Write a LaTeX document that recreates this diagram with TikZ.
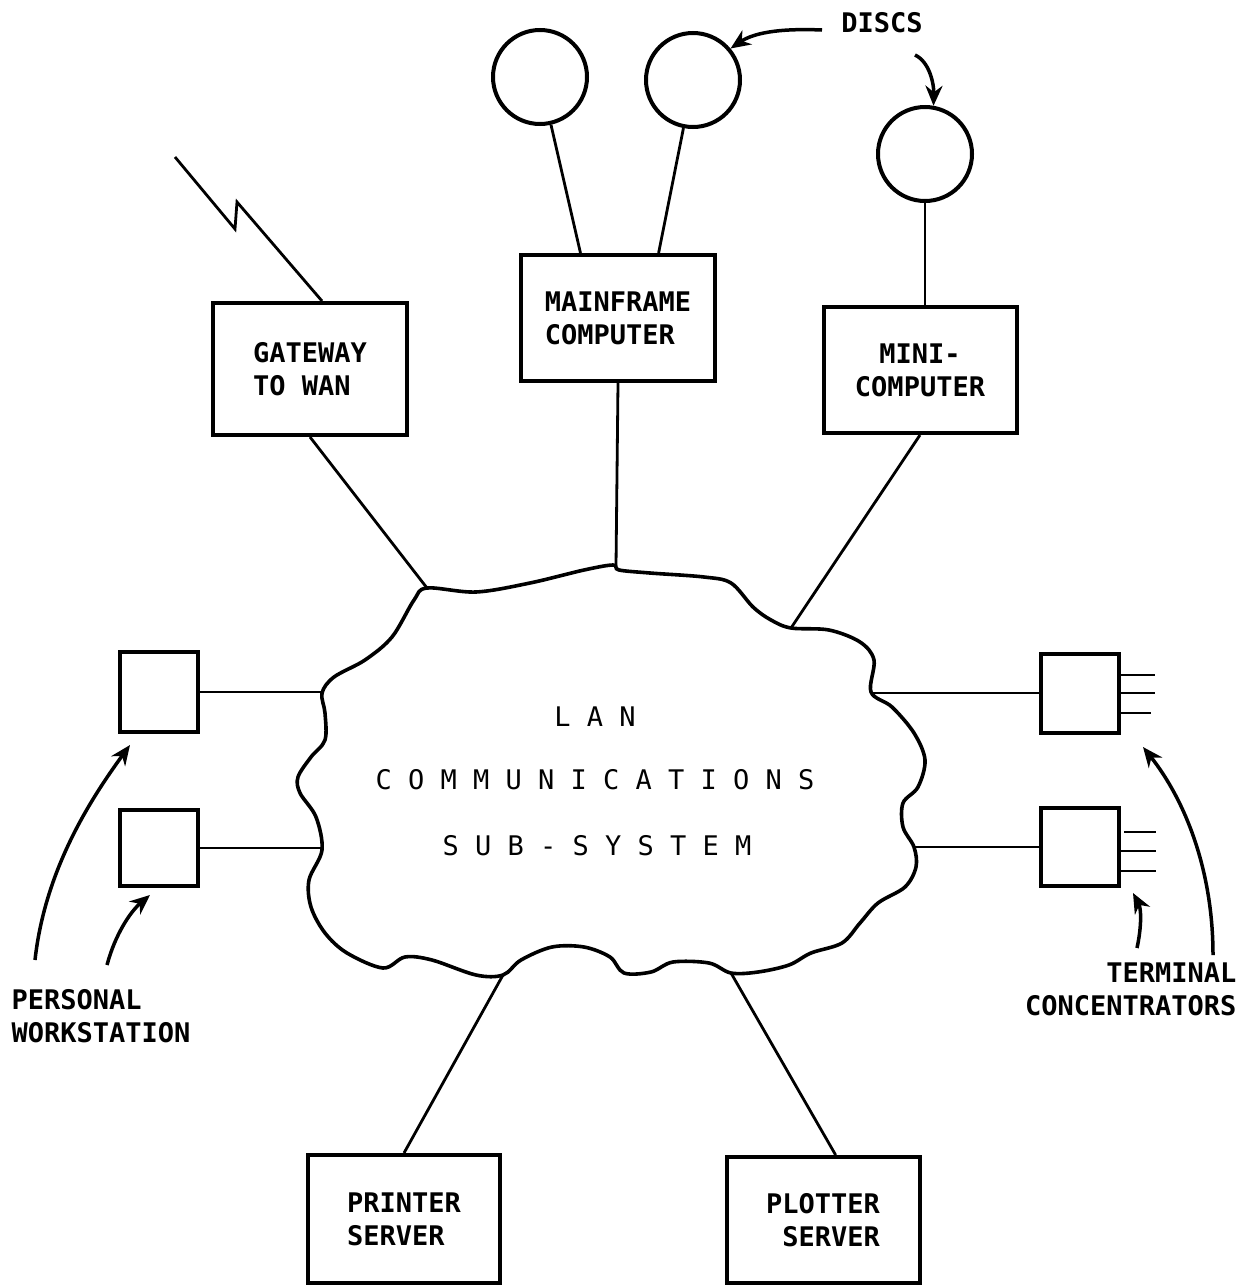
\documentclass[tikz,border=0pt]{standalone}
\usepackage{fontspec}
\newfontfamily\plotfont{DejaVu Sans Mono}
\usetikzlibrary{arrows.meta,calc}
\begin{document}
\begin{tikzpicture}[x=1pt,y=-1pt,
  every node/.style={font=\plotfont\bfseries\fontsize{27}{33}\selectfont},
  cloudtext/.style={font=\plotfont\fontsize{27}{33}\selectfont},
  box/.style={draw,line width=4pt,inner sep=0pt},
  disc/.style={draw,circle,line width=4pt,minimum size=94pt,inner sep=0pt},
  conn/.style={line width=2.8pt},
  pointer/.style={line width=3.5pt,-{Stealth[length=20pt,width=17pt]}},
]
\useasboundingbox (0,0) rectangle (1259,1285);

% boxes
\node[box,minimum width=194pt,minimum height=132pt,align=left] (gw) at (310,369) {GATEWAY\\TO WAN};
\node[box,minimum width=194pt,minimum height=126pt,align=left] (mf) at (618,318) {MAINFRAME\\COMPUTER};
\node[box,minimum width=193pt,minimum height=126pt,align=center] (mini) at (920,370) {MINI-\\COMPUTER};
\node[box,minimum width=192pt,minimum height=128pt,align=left] (pr) at (404,1219) {PRINTER\\SERVER};
\node[box,minimum width=193pt,minimum height=126pt,align=right] (pl) at (823,1220) {PLOTTER\\SERVER};
\node[box,minimum width=78pt,minimum height=80pt] (ws1) at (159,692) {};
\node[box,minimum width=78pt,minimum height=76pt] (ws2) at (159,848) {};
\node[box,minimum width=78pt,minimum height=79pt] (tc1) at (1080,693) {};
\node[box,minimum width=78pt,minimum height=78pt] (tc2) at (1080,847) {};

% discs
\node[disc] (d1) at (540,77) {};
\node[disc] (d2) at (693,80) {};
\node[disc] (d3) at (925,154) {};

% cloud
\draw[line width=3.6pt] plot[smooth cycle, tension=0.55] coordinates {
(427,588) (476,592) (530,583) (584,570) (613,565) (619,570) (650,573) (704,577)
(731,583) (753,607) (771,620) (791,628) (829,630) (860,642) (874,660) (871,692)
(892,707) (914,733) (925,760) (918,787) (903,803) (903,827) (914,847) (916,867)
(905,887) (878,903) (860,923) (842,943) (811,953) (789,965) (758,972) (731,973)
(709,963) (673,962) (651,972) (624,973) (610,957) (584,947) (552,947) (521,960)
(503,975) (476,975) (432,960) (405,957) (383,968) (347,953) (325,933) (311,907)
(309,880) (322,850) (316,817) (300,793) (298,777) (311,757) (325,740) (325,713)
(322,693) (334,677) (365,660) (392,637) (414,600)};

\coordinate (c1) at (427,588);
\coordinate (c2) at (616,566);
\coordinate (c3) at (791,628);
\coordinate (c4) at (322,692);
\coordinate (c5) at (322,848);
\coordinate (c6) at (872,693);
\coordinate (c7) at (914,847);
\coordinate (c8) at (503,975);
\coordinate (c9) at (731,973);

% cloud text
\node[cloudtext] (t1) at (595,717) {L A N};
\node[cloudtext] (t2) at (595,780) {C O M M U N I C A T I O N S};
\node[cloudtext] (t3) at (597,846) {S U B - S Y S T E M};

% connectors
\draw[conn] (gw.south) -- (c1);
\draw[conn] (mf.south) -- (c2);
\draw[conn] (mini.south) -- (c3);
\draw[conn] (ws1.east) -- (c4);
\draw[conn] (ws2.east) -- (c5);
\draw[conn] (c6) -- (tc1.west);
\draw[conn] (c7) -- (tc2.west);
\draw[conn] (pr.north) -- (c8);
\draw[conn] (pl.79) -- (c9);
\draw[conn] (d1) -- (mf.120);
\draw[conn] (d2) -- (mf.58);
\draw[conn] (d3.south) -- (d3.south |- mini.north);

% lightning
\coordinate (wan) at (175,157);
\draw[conn,line join=miter] (wan) -- (235,229) -- (237,202) -- (gw.80);

% terminal stubs
\draw[conn] ([yshift=18pt]tc1.east) -- ++(34,0);
\draw[conn] (tc1.east) -- ++(34,0);
\draw[conn] ([yshift=-20pt]tc1.east) -- ++(30,0);
\draw[conn] ([xshift=3pt,yshift=15pt]tc2.east) -- ++(32,0);
\draw[conn] ([yshift=-4pt]tc2.east) -- ++(35,0);
\draw[conn] ([yshift=-24pt]tc2.east) -- ++(35,0);

% labels
\node (discs) at (882,23) {DISCS};
\node[anchor=west,align=left] (pws) at (8,1016) {PERSONAL\\WORKSTATION};
\node[anchor=east,align=right] (tcl) at (1240,989) {TERMINAL\\CONCENTRATORS};

% pointers
\coordinate (a1) at (822,30);
\coordinate (a2) at (915,55);
\draw[pointer] (a1) .. controls (775,28) and (752,34) .. (d2.40);
\draw[pointer] (a2) .. controls (930,62) and (934,85) .. (d3.80);
\coordinate (b1) at (35,960);
\coordinate (b1e) at (130,745);
\coordinate (b2) at (107,965);
\coordinate (b2e) at (150,895);
\draw[pointer] (b1) .. controls (45,870) and (90,800) .. (b1e);
\draw[pointer] (b2) .. controls (115,935) and (130,912) .. (b2e);
\coordinate (e1) at (1213,955);
\coordinate (e1e) at (1143,747);
\coordinate (e2) at (1137,948);
\coordinate (e2e) at (1133,893);
\draw[pointer] (e1) .. controls (1213,870) and (1185,800) .. (e1e);
\draw[pointer] (e2) .. controls (1142,925) and (1141,908) .. (e2e);
\end{tikzpicture}
\end{document}
